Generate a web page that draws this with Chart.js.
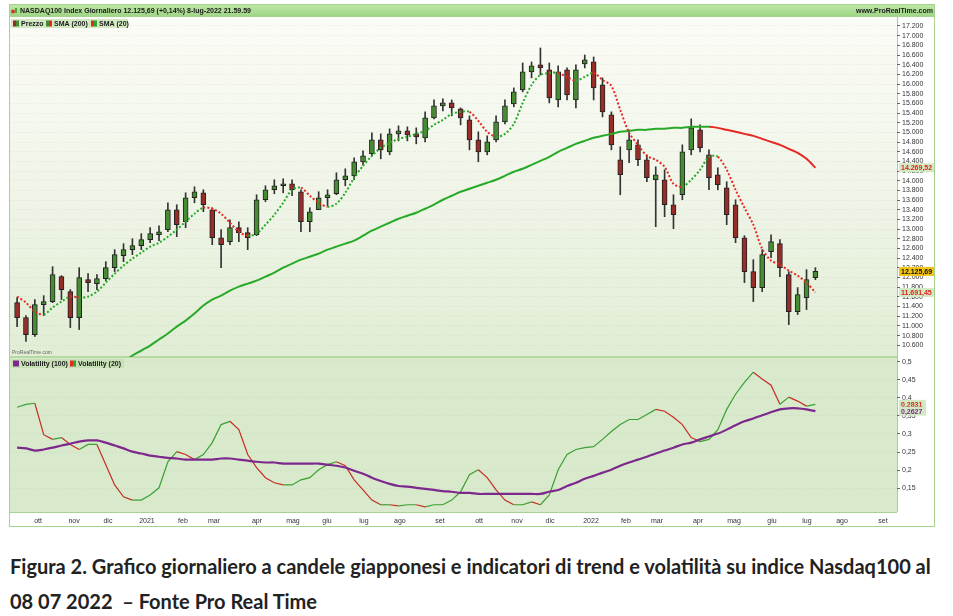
<!DOCTYPE html>
<html>
<head>
<meta charset="utf-8">
<script src="https://cdn.jsdelivr.net/npm/chart.js@4.4.1/dist/chart.umd.min.js"></script>
<style>
  html, body { margin: 0; padding: 0; background: #fff; }
  #wrap { position: absolute; left: 0; top: 0; width: 953px; height: 530px; }
  #caption { position: absolute; left: 10px; top: 549px; font-family: Lato, sans-serif; font-weight: bold;
    font-size: 20px; line-height: 35px; color: #222; white-space: nowrap; }
</style>
</head>
<body>
<div id="wrap"><canvas id="myChart"></canvas></div>
<div id="caption">Figura 2. Grafico giornaliero a candele giapponesi e indicatori di trend e volatilità su indice Nasdaq100 al<br>08 07 2022&nbsp; – Fonte Pro Real Time</div>
<script>
// one candle every 5 trading days, x = trading day index from the left edge
const dayIndex = [4, 9, 14, 19, 24, 29, 34, 39, 44, 49, 54, 59, 64, 69, 74, 79, 84, 89, 94, 99,
  104, 109, 114, 119, 124, 129, 134, 139, 144, 149, 154, 159, 164, 169, 174, 179, 184, 189, 194, 199,
  204, 209, 214, 219, 224, 229, 234, 239, 244, 249, 254, 259, 264, 269, 274, 279, 284, 289, 294, 299,
  304, 309, 314, 319, 324, 329, 334, 339, 344, 349, 354, 359, 364, 369, 374, 379, 384, 389, 394, 399,
  404, 409, 414, 419, 424, 429, 434, 439, 444, 449, 454]

const openP = [11482, 11172, 10821, 11440, 11502, 12018, 11709, 11172, 11956, 11874,
  11977, 12204, 12452, 12576, 12658, 12782, 12885, 12989, 13402, 13154,
  13649, 13752, 13402, 12823, 12741, 13030, 12927, 12885, 13608, 13814,
  13897, 13938, 13773, 13154, 13402, 13649, 13732, 14021, 14103, 14392,
  14558, 14847, 14599, 14970, 15032, 14970, 14888, 15301, 15548, 15610,
  15486, 15259, 14847, 14599, 14847, 15218, 15590, 15879, 16250, 16395,
  16292, 15672, 16292, 15672, 16416, 16457, 15982, 15363, 14434, 14640,
  14743, 14434, 14021, 14021, 13505, 13711, 14640, 15053, 14537, 14124,
  13856, 13505, 12823, 12122, 11791, 12534, 12700, 12060, 11296, 11585, 11998]
const highP = [11585, 11213, 11544, 11626, 12225, 12039, 11750, 12204, 12080, 12060,
  12328, 12576, 12700, 12803, 12906, 13030, 13071, 13546, 13505, 13752,
  13876, 13814, 13443, 12989, 13195, 13154, 13030, 13711, 13897, 14021,
  14041, 14021, 13814, 13443, 13773, 13814, 14165, 14248, 14475, 14620,
  14991, 14970, 15074, 15136, 15115, 15094, 15425, 15672, 15693, 15672,
  15507, 15342, 15012, 14929, 15342, 15672, 15920, 16436, 16457, 16746,
  16436, 16374, 16333, 16395, 16601, 16560, 16127, 15425, 14702, 15053,
  14847, 14537, 14289, 14227, 13711, 14743, 15280, 15156, 14640, 14269,
  13980, 13608, 12865, 12369, 12576, 12885, 12782, 12122, 11791, 12163, 12204]
const lowP = [10986, 10677, 10780, 11213, 11482, 11544, 10965, 10924, 11709, 11750,
  11936, 12122, 12328, 12473, 12576, 12720, 12762, 12947, 12844, 13030,
  13546, 13360, 12679, 12204, 12679, 12741, 12576, 12865, 13567, 13732,
  13752, 13691, 12947, 12947, 13402, 13484, 13711, 13897, 14021, 14330,
  14516, 14454, 14537, 14826, 14826, 14764, 14805, 15280, 15445, 15342,
  15156, 14640, 14392, 14537, 14805, 15177, 15528, 15838, 16127, 16188,
  15610, 15528, 15672, 15507, 16333, 15672, 15321, 14640, 13711, 14372,
  14310, 13980, 13051, 13257, 13009, 13608, 14537, 14599, 13814, 13814,
  13092, 12720, 11894, 11502, 11709, 12411, 12018, 11027, 11234, 11337, 11956]
const closeP = [11172, 10821, 11440, 11502, 12060, 11750, 11172, 11998, 11894, 11977,
  12204, 12473, 12576, 12658, 12782, 12906, 12947, 13402, 13092, 13649,
  13773, 13505, 12823, 12679, 13030, 12927, 12823, 13608, 13814, 13897,
  13938, 13814, 13154, 13360, 13649, 13711, 14021, 14103, 14392, 14516,
  14847, 14640, 14970, 15032, 14950, 14909, 15301, 15548, 15610, 15507,
  15301, 14847, 14599, 14805, 15218, 15548, 15838, 16250, 16374, 16333,
  15714, 16250, 15776, 16292, 16498, 15920, 15425, 14743, 14124, 14847,
  14434, 14062, 14124, 13505, 13298, 14599, 15094, 14681, 14062, 13918,
  13298, 12823, 12122, 11791, 12473, 12741, 12204, 11296, 11647, 11956, 12125.69]

const sma20 = [11606, 11482, 11296, 11234, 11378, 11502, 11606, 11585, 11606, 11709,
  11894, 12080, 12246, 12390, 12514, 12638, 12720, 12844, 12989, 13154,
  13319, 13443, 13422, 13319, 13133, 12947, 12865, 12906, 13092, 13298,
  13546, 13814, 13856, 13691, 13546, 13463, 13525, 13752, 14062, 14310,
  14516, 14681, 14785, 14867, 14909, 14970, 15032, 15156, 15259, 15383,
  15425, 15425, 15239, 15012, 14909, 14970, 15177, 15610, 15982, 16188,
  16230, 16230, 16147, 16065, 16147, 16230, 16085, 15961, 15466, 14991,
  14743, 14516, 14434, 14289, 13938, 13876, 14021, 14227, 14496, 14496,
  14227, 13814, 13443, 13092, 12596, 12349, 12266, 12142, 12039, 11894, 11691.45]

const sma200 = [null, null, null, null, null, null, null, null, null, null,
  null, null, 10243, 10388, 10491, 10594, 10718, 10842, 10986, 11110,
  11254, 11420, 11544, 11626, 11729, 11812, 11874, 11936, 12018, 12101,
  12204, 12287, 12369, 12431, 12493, 12576, 12638, 12700, 12762, 12865,
  12968, 13051, 13133, 13216, 13278, 13340, 13422, 13505, 13608, 13691,
  13773, 13835, 13897, 13959, 14021, 14103, 14186, 14248, 14330, 14413,
  14496, 14599, 14681, 14764, 14826, 14888, 14929, 14970, 15012, 15032,
  15053, 15053, 15074, 15074, 15094, 15094, 15115, 15115, 15115, 15094,
  15053, 15012, 14970, 14929, 14867, 14805, 14743, 14661, 14578, 14454, 14269.52]

const vol20 = [0.374, 0.382, 0.385, 0.298, 0.285, 0.290, 0.271, 0.257, 0.271, 0.271,
  0.215, 0.159, 0.126, 0.117, 0.117, 0.131, 0.151, 0.223, 0.251, 0.243,
  0.229, 0.243, 0.276, 0.326, 0.335, 0.312, 0.243, 0.207, 0.179, 0.165,
  0.159, 0.159, 0.173, 0.179, 0.201, 0.215, 0.223, 0.212, 0.173, 0.145,
  0.117, 0.104, 0.104, 0.101, 0.104, 0.104, 0.098, 0.104, 0.104, 0.117,
  0.140, 0.187, 0.201, 0.179, 0.145, 0.117, 0.104, 0.104, 0.112, 0.104,
  0.131, 0.201, 0.243, 0.257, 0.262, 0.265, 0.285, 0.307, 0.326, 0.340,
  0.340, 0.354, 0.368, 0.363, 0.346, 0.326, 0.290, 0.279, 0.285, 0.312,
  0.368, 0.410, 0.443, 0.471, 0.452, 0.435, 0.382, 0.402, 0.391, 0.377, 0.382]

const vol100 = [0.262, 0.260, 0.254, 0.257, 0.262, 0.268, 0.273, 0.279, 0.282, 0.282,
  0.276, 0.268, 0.260, 0.251, 0.246, 0.240, 0.237, 0.234, 0.232, 0.229,
  0.229, 0.229, 0.229, 0.232, 0.232, 0.229, 0.226, 0.223, 0.221, 0.221,
  0.218, 0.218, 0.218, 0.218, 0.218, 0.215, 0.212, 0.207, 0.198, 0.190,
  0.179, 0.170, 0.162, 0.156, 0.154, 0.151, 0.148, 0.145, 0.142, 0.140,
  0.137, 0.137, 0.134, 0.134, 0.134, 0.134, 0.134, 0.134, 0.134, 0.134,
  0.140, 0.145, 0.156, 0.165, 0.176, 0.184, 0.193, 0.201, 0.212, 0.221,
  0.229, 0.237, 0.246, 0.254, 0.262, 0.271, 0.276, 0.285, 0.293, 0.301,
  0.312, 0.324, 0.335, 0.343, 0.352, 0.360, 0.368, 0.371, 0.371, 0.368, 0.363]

const volBadgeLabels = ['0,2831', '0,2627']

const monthTicks = [15.8, 36.1, 55.2, 77.2, 97.5, 115, 139.2, 159.5, 178.7, 199.5, 219.8, 242.4,
  264.4, 285.8, 304.4, 327.5, 347.2, 364.7, 387.8, 408.1, 429.5, 449.2, 469, 492.1]
const monthLabels = ['ott', 'nov', 'dic', '2021', 'feb', 'mar', 'apr', 'mag', 'giu', 'lug', 'ago', 'set',
  'ott', 'nov', 'dic', '2022', 'feb', 'mar', 'apr', 'mag', 'giu', 'lug', 'ago', 'set']

const priceTicks = [10600, 10800, 11000, 11200, 11400, 11600, 11800, 12000, 12200, 12400, 12600,
  12800, 13000, 13200, 13400, 13600, 13800, 14000, 14200, 14400, 14600, 14800, 15000, 15200,
  15400, 15600, 15800, 16000, 16200, 16400, 16600, 16800, 17000, 17200]
const volTicks = [0.15, 0.2, 0.25, 0.3, 0.35, 0.4, 0.45, 0.5]

const titleText = 'NASDAQ100 Index Giornaliero 12.125,69 (+0,14%) 8-lug-2022 21.59.59'

const upColor = 'rgb(70, 140, 50)'
const downColor = 'rgb(150, 45, 40)'
const lineGreen = 'rgb(40, 170, 40)'
const lineRed = 'rgb(230, 40, 35)'
const purple = 'rgb(125, 40, 140)'
const axisFont = { family: 'Liberation Sans', size: 7 }

function fmtThousands(v) {
  const s = Math.round(v).toString()
  return s.length > 3 ? s.slice(0, -3) + '.' + s.slice(-3) : s
}
function fmtPrice(v) {
  const parts = v.toFixed(2).split('.')
  return fmtThousands(+parts[0]) + ',' + parts[1]
}

const pts = arr => dayIndex.map((d, i) => ({ x: d, y: arr[i] }))
const slopeColor = (up, down) => c => (c.p1.parsed.y >= c.p0.parsed.y ? up : down)

let data = {
  datasets: [
    {
      type: 'line', label: 'SMA (20)', yAxisID: 'y', data: pts(sma20),
      borderWidth: 2, borderDash: [2, 2], pointRadius: 0, tension: 0.3,
      borderColor: lineGreen,
      segment: { borderColor: slopeColor(lineGreen, lineRed) },
    },
    {
      type: 'line', label: 'SMA (200)', yAxisID: 'y', data: pts(sma200),
      borderWidth: 2, pointRadius: 0, tension: 0.3,
      borderColor: lineGreen,
      segment: { borderColor: slopeColor(lineGreen, lineRed) },
    },
    {
      type: 'bar', label: 'body', yAxisID: 'y', grouped: false,
      data: dayIndex.map((d, i) => ({ x: d, y: [openP[i], closeP[i]] })),
      barThickness: 5, borderWidth: 1, borderSkipped: false, borderColor: '#222',
      backgroundColor: c => (closeP[c.dataIndex] >= openP[c.dataIndex] ? upColor : downColor),
    },
    {
      type: 'bar', label: 'wick', yAxisID: 'y', grouped: false,
      data: dayIndex.map((d, i) => ({ x: d, y: [lowP[i], highP[i]] })),
      barThickness: 1, backgroundColor: '#333',
    },
    {
      type: 'line', label: 'Volatility (100)', yAxisID: 'yv', data: pts(vol100),
      borderWidth: 2.2, pointRadius: 0, tension: 0.3, borderColor: purple,
    },
    {
      type: 'line', label: 'Volatility (20)', yAxisID: 'yv', data: pts(vol20),
      borderWidth: 1.2, pointRadius: 0, tension: 0,
      borderColor: lineGreen,
      segment: { borderColor: slopeColor('rgb(60, 160, 50)', 'rgb(200, 45, 35)') },
    },
  ],
}

function legendIcon(ctx, x, y, left, right) {
  ctx.fillStyle = left
  ctx.fillRect(x, y, 3, 6)
  ctx.fillStyle = right
  ctx.fillRect(x + 3, y, 3, 6)
}

function badge(ctx, x, y, w, text, bg, fg) {
  ctx.fillStyle = bg
  ctx.fillRect(x, y - 4.5, w, 9)
  ctx.fillStyle = fg
  ctx.font = 'bold 7px "Liberation Sans"'
  ctx.textBaseline = 'middle'
  ctx.textAlign = 'left'
  ctx.fillText(text, x + 2, y + 0.5)
}

const panels = {
  id: 'panels',
  beforeDraw(chart) {
    const { ctx, chartArea: a, scales } = chart
    const yp = scales.y
    const yv = scales.yv
    const xs = scales.x
    ctx.save()
    ctx.fillStyle = '#fff'
    ctx.fillRect(0, 0, chart.width, chart.height)

    let g = ctx.createLinearGradient(0, yp.top, 0, yp.bottom)
    g.addColorStop(0, '#fbfcf6')
    g.addColorStop(0.5, '#f0f5e8')
    g.addColorStop(1, '#e1edd5')
    ctx.fillStyle = g
    ctx.fillRect(a.left, yp.top, a.right - a.left, yp.bottom - yp.top)
    ctx.fillStyle = '#d8e9cc'
    ctx.fillRect(a.left, yv.top, a.right - a.left, yv.bottom - yv.top)

    // header bar
    const hx = a.left - 1
    const hw = yp.right - hx
    g = ctx.createLinearGradient(0, a.top - 12, 0, a.top - 1)
    g.addColorStop(0, '#bfe8a8')
    g.addColorStop(1, '#9fd586')
    ctx.fillStyle = g
    ctx.fillRect(hx, a.top - 12, hw, 11)
    ctx.fillStyle = '#d23a2a'
    ctx.beginPath()
    ctx.arc(hx + 4, a.top - 5.5, 2, 0, Math.PI * 2)
    ctx.fill()
    ctx.fillStyle = '#4aa83a'
    ctx.fillRect(hx + 6, a.top - 9, 2, 5)
    ctx.font = 'bold 7px "Liberation Sans"'
    ctx.textBaseline = 'middle'
    ctx.fillStyle = '#1a1a1a'
    ctx.textAlign = 'left'
    ctx.fillText(titleText, hx + 11, a.top - 6)
    ctx.textAlign = 'right'
    ctx.fillText('www.ProRealTime.com', yp.right - 2, a.top - 6)

    // frame
    ctx.strokeStyle = '#a6d48f'
    ctx.lineWidth = 1
    ctx.strokeRect(hx + 0.5, a.top - 12.5, hw - 1, xs.bottom - a.top + 12)
    ctx.beginPath()
    ctx.moveTo(a.right + 0.5, a.top)
    ctx.lineTo(a.right + 0.5, xs.top)
    ctx.moveTo(hx, a.top - 0.5)
    ctx.lineTo(yp.right, a.top - 0.5)
    ctx.moveTo(a.left, xs.top + 0.5)
    ctx.lineTo(a.right, xs.top + 0.5)
    ctx.stroke()
    ctx.strokeStyle = '#b5d9a2'
    ctx.lineWidth = 2
    ctx.beginPath()
    ctx.moveTo(a.left, yv.top)
    ctx.lineTo(a.right, yv.top)
    ctx.stroke()
    ctx.restore()
  },
  afterDatasetsDraw(chart) {
    const { ctx, chartArea: a, scales } = chart
    const yp = scales.y
    const yv = scales.yv
    ctx.save()
    ctx.textBaseline = 'middle'
    ctx.textAlign = 'left'

    // price legend
    ctx.fillStyle = '#d3e9c4'
    ctx.fillRect(a.left + 1, a.top + 2, 117, 9)
    ctx.font = 'bold 7px "Liberation Sans"'
    legendIcon(ctx, a.left + 3, a.top + 3.5, downColor, upColor)
    ctx.fillStyle = '#1a1a1a'
    ctx.fillText('Prezzo', a.left + 11, a.top + 7)
    legendIcon(ctx, a.left + 36, a.top + 3.5, upColor, lineRed)
    ctx.fillStyle = '#1a1a1a'
    ctx.fillText('SMA (200)', a.left + 44, a.top + 7)
    legendIcon(ctx, a.left + 81, a.top + 3.5, lineRed, lineGreen)
    ctx.fillStyle = '#1a1a1a'
    ctx.fillText('SMA (20)', a.left + 89, a.top + 7)

    // volatility legend
    ctx.fillStyle = '#c7e0b6'
    ctx.fillRect(a.left + 1, yv.top + 2, 113, 9)
    legendIcon(ctx, a.left + 3, yv.top + 3.5, purple, purple)
    ctx.fillStyle = '#1a1a1a'
    ctx.fillText('Volatility (100)', a.left + 11, yv.top + 7)
    legendIcon(ctx, a.left + 60, yv.top + 3.5, lineRed, lineGreen)
    ctx.fillStyle = '#1a1a1a'
    ctx.fillText('Volatility (20)', a.left + 68, yv.top + 7)

    ctx.font = '5px "Liberation Sans"'
    ctx.fillStyle = '#666'
    ctx.fillText('ProRealTime.com', a.left + 2, yp.bottom - 4)

    // last value badges on the right axis
    const last = dayIndex.length - 1
    const bx = a.right + 2
    badge(ctx, bx, yp.getPixelForValue(sma200[last]), 35, fmtPrice(sma200[last]), '#d2eac3', '#e3231b')
    badge(ctx, bx, yp.getPixelForValue(closeP[last]), 35, fmtPrice(closeP[last]), '#f1c417', '#111')
    badge(ctx, bx, yp.getPixelForValue(sma20[last]), 35, fmtPrice(sma20[last]), '#d2eac3', '#e3231b')
    badge(ctx, bx, yv.getPixelForValue(vol20[last]), 27, volBadgeLabels[0], '#d2eac3', '#d42a1e')
    badge(ctx, bx, yv.getPixelForValue(vol100[last]), 27, volBadgeLabels[1], '#d2eac3', purple)
    ctx.restore()
  },
}

let config = {
  type: 'bar',
  data: data,
  plugins: [panels],
  options: {
    responsive: true,
    maintainAspectRatio: false,
    animation: false,
    layout: { padding: { left: 10, top: 17, right: 18, bottom: 3 } },
    plugins: { legend: { display: false }, tooltip: { enabled: false } },
    scales: {
      x: {
        type: 'linear', min: 0, max: 500, offset: false,
        grid: { display: false, offset: false, drawTicks: false, tickLength: 0 },
        border: { display: false },
        afterBuildTicks: s => { s.ticks = monthTicks.map(v => ({ value: v })) },
        afterFit: s => { s.height = 15 },
        ticks: {
          autoSkip: false, maxRotation: 0, padding: 5, color: '#333', font: axisFont,
          callback: v => monthLabels[monthTicks.indexOf(v)],
        },
      },
      y: {
        type: 'linear', position: 'right', stack: 'panes', stackWeight: 340,
        min: 10357, max: 17386,
        afterBuildTicks: s => { s.ticks = priceTicks.map(v => ({ value: v })) },
        afterFit: s => { s.width = 38 },
        grid: { color: 'rgba(120, 140, 110, 0.14)', tickColor: '#666', tickLength: 3 },
        border: { display: false, dash: [1, 2] },
        ticks: { autoSkip: false, padding: 2, color: '#333', font: axisFont, callback: v => fmtThousands(v) },
      },
      yv: {
        type: 'linear', position: 'right', stack: 'panes', stackWeight: 155,
        min: 0.084, max: 0.513,
        afterBuildTicks: s => { s.ticks = volTicks.map(v => ({ value: v })) },
        afterFit: s => { s.width = 38 },
        grid: { color: 'rgba(120, 140, 110, 0.14)', tickColor: '#666', tickLength: 3 },
        border: { display: false, dash: [1, 2] },
        ticks: { autoSkip: false, padding: 2, color: '#333', font: axisFont, callback: v => String(+v.toFixed(2)).replace('.', ',') },
      },
    },
  },
}

let chart = new Chart(document.getElementById('myChart'), config)
</script>
</body>
</html>
